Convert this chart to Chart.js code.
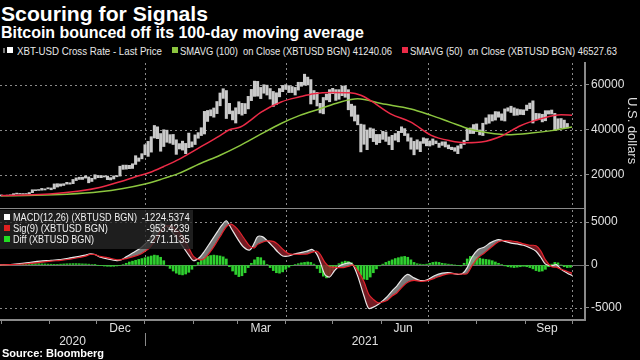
<!DOCTYPE html>
<html>
<head>
<meta charset="utf-8">
<script src="https://cdn.jsdelivr.net/npm/chart.js@4.4.0/dist/chart.umd.min.js"></script>
<style>
  body { margin: 0; background: #000; width: 640px; height: 360px; overflow: hidden; position: relative;
         font-family: "Liberation Sans", Arial, sans-serif; color: #fff; }
  .abs { position: absolute; white-space: pre; }
  .fit { transform-origin: left center; }
  .fitR { transform-origin: right center; }
  #title { left: 1px; top: 2px; font-size: 21px; line-height: 24px; font-weight: bold; }
  #subtitle { left: 1px; top: 24px; font-size: 16px; line-height: 17px; font-weight: bold; }
  .lg { font-size: 11px; line-height: 12px; color: #e8e8e8; top: 45px; }
  .sq { position: absolute; width: 6px; height: 6px; }
  #topWrap { left: 0; top: 58px; width: 640px; height: 151px; }
  #botWrap { left: 0; top: 209px; width: 640px; height: 141px; }
  #units { left: 625px; top: 97px; font-size: 13px; color: #ddd; writing-mode: vertical-rl; }
  #macdBox { left: 0; top: 210px; width: 193px; height: 39px; background: rgba(38, 38, 38, 0.8); }
  .ml { font-size: 11px; line-height: 11px; color: #f0f0f0; }
  #source { left: 2px; top: 347px; font-size: 11px; line-height: 13px; font-weight: bold; }
</style>
</head>
<body>
<div id="title" class="abs fit" data-w="207">Scouring for Signals</div>
<div id="subtitle" class="abs fit" data-w="363">Bitcoin bounced off its 100-day moving average</div>

<div class="sq" style="left:3px;top:48px;width:2px;height:5px;background:#777"></div>
<div class="sq" style="left:7px;top:47px;background:#fff"></div>
<div class="abs lg fit" data-w="145" style="left:17px">XBT-USD Cross Rate - Last Price</div>
<div class="sq" style="left:172px;top:47px;background:#8cc63f"></div>
<div class="abs lg fit" data-w="212" style="left:180px">SMAVG (100)  on Close (XBTUSD BGN) 41240.06</div>
<div class="sq" style="left:402px;top:47px;background:#ec2b47"></div>
<div class="abs lg fit" data-w="207" style="left:410px">SMAVG (50)  on Close (XBTUSD BGN) 46527.63</div>

<div id="topWrap" class="abs"><canvas id="priceChart"></canvas></div>
<div id="botWrap" class="abs"><canvas id="macdChart"></canvas></div>
<div id="units" class="abs">U.S. dollars</div>

<div id="macdBox" class="abs"></div>
<div class="sq" style="left:4px;top:214px;background:#fff"></div>
<div class="abs ml fit" data-w="124" style="left:13px;top:212px">MACD(12,26) (XBTUSD BGN)</div>
<div class="abs ml fitR" data-w="48" style="right:450px;top:212px">-1224.5374</div>
<div class="sq" style="left:4px;top:225px;background:#e02020"></div>
<div class="abs ml fit" data-w="95" style="left:13px;top:223px">Sig(9) (XBTUSD BGN)</div>
<div class="abs ml fitR" data-w="43" style="right:450px;top:223px">-953.4239</div>
<div class="sq" style="left:4px;top:236px;background:#22dd22"></div>
<div class="abs ml fit" data-w="81" style="left:13px;top:234px">Diff (XBTUSD BGN)</div>
<div class="abs ml fitR" data-w="43" style="right:450px;top:234px">-271.1135</div>

<div id="source" class="abs">Source: Bloomberg</div>

<script>
// squeeze text to the widths of the condensed original font
document.querySelectorAll('[data-w]').forEach(el => {
  const w = el.getBoundingClientRect().width;
  el.style.transform = 'scaleX(' + (Number(el.dataset.w) / w) + ')';
});

// days counted from 1 Jan 2021
const X_MIN = -92.7, X_MAX = 281.3;
const monthStarts = [-92, -61, -31, 0, 31, 59, 90, 120, 151, 181, 212, 243, 273];
const quarterStarts = [0, 90, 181, 273];
const monthLabels = { '-16': 'Dec', '74': 'Mar', '165': 'Jun', '257': 'Sep' };
const years = ['2020', '2021'];
const priceTicks = [20000, 40000, 60000];
const macdTicks = [-5000, 0, 5000];

// XBT-USD, two-day low/high bars starting 1 Oct 2020
const priceStartDay = -92;
const priceStep = 2;
const priceLow = [
  10400,10500,10500,10600,10900,11300,11300,11200,11300,11400,11900,12800,12900,13000,13100,
  13600,
  13200,13600,14400,14800,15100,15700,15700,15900,17300,17800,17800,18400,16300,16900,
  18000,
  18600,18600,18900,17700,17600,18000,19000,19300,22300,22400,22600,22700,24500,25900,27000,
  28800,28100,30000,36300,36000,30400,32500,34400,34000,33400,29000,31400,30900,29300,32000,
  32300,
  33400,36200,37400,38100,43700,46200,45600,47200,50700,54000,45000,47100,44400,
  43000,
  47100,46500,47200,49300,53000,54900,55000,53900,56300,55500,53700,50400,51300,54700,57000,
  58000,56600,56600,55500,57700,59400,59900,60000,51500,53500,50600,47500,47100,53300,52500,
  56100,53100,53600,55200,54500,48900,46000,43900,42200,30100,33500,31100,36400,34700,33400,
  34200,
  35700,34800,33300,31100,35300,34600,38700,37400,34900,31300,28800,31300,30200,33900,
  32800,
  32700,33200,33800,32100,33000,32300,31500,31100,30400,29300,31700,33400,35200,38300,38300,
  39200,37700,37400,42500,42900,43900,44300,45600,44200,43900,48300,47700,46400,46500,46800,
  46700,
  48600,49400,43000,44400,44700,43500,44000,47000,47000,39600,40200,40800,40900,40800
];
const priceHigh = [
  10900,10700,10800,10950,11450,11700,11550,11500,11500,11950,13200,13200,13300,13800,13600,
  14100,
  14000,15800,15900,15800,15900,16500,16300,17800,18500,18800,18800,19400,18900,18300,
  19900,
  19600,19500,19400,19300,18600,19400,19500,23700,24200,24200,24100,24800,28400,27400,29300,
  33300,34800,36900,41900,41300,38300,40000,39800,37800,37900,35500,33800,34900,33900,38500,
  34600,
  37700,38700,40900,48200,48600,48900,49700,52600,56400,58300,57500,51800,48400,
  49800,
  52500,51800,51700,54900,58000,61700,61600,58900,60100,59900,58400,57100,56500,58400,59800,
  60100,59700,59300,58900,61200,61200,64800,63500,62400,57500,56700,51800,54400,55900,57900,
  58500,57900,57900,59500,59600,57900,51400,50600,46600,42500,42200,39900,40800,40400,37900,
  37900,
  39300,39000,36800,37500,38300,39300,41300,40500,38200,36400,34800,35500,34700,36400,
  36000,
  35000,35900,35000,34000,34600,34600,33200,32200,32000,32800,33600,35300,40500,40800,42300,
  42600,39900,42900,45300,46700,46700,48100,48000,47100,49300,49800,50500,49800,49300,49000,
  48900,
  51000,51900,52900,47300,47200,46900,48500,48500,48800,47300,44900,45000,44300,42800
];

const sma100Days = [-92,-70,-50,-29,-14,0,10,22,35,48,61,74,87,99,112,124,136,151,170,183,195,208,219,234,247,260,273];
const sma100 = [10500,10700,11200,12300,13800,15800,17800,20600,24800,28600,33000,38000,42800,46400,49400,52200,53800,51700,49300,46400,43400,40200,38700,37800,38500,39600,41200];
const sma50Days = [-92,-77,-61,-42,-29,-16,-6,3,12,22,35,48,54,61,67,74,87,99,108,120,131,138,144,157,170,183,195,206,215,228,240,253,266,273];
const sma50 = [10600,10800,11300,12600,14200,16800,19000,20900,23600,26900,32100,37400,40000,41200,44000,47800,52400,54700,56100,56600,56500,55400,53100,47100,43400,37500,35100,34200,34500,37200,41800,44900,46700,46500];

const macdDays = [-93,-86,-80,-73,-67,-60,-54,-48,-42,-38,-35,-32,-29,-24,-18,-15,-12,-8,-3,0,
  3,7,10,12,14,17,20,24,28,31,35,38,42,46,49,52,55,59,63,67,70,72,75,78,82,85,88,92,96,101,
  104,107,110,112,115,118,121,124,127,131,133,136,140,143,146,149,152,155,158,161,
  165,168,172,176,180,185,190,195,200,203,206,209,213,217,221,226,230,234,238,242,
  246,250,253,256,260,263,266,270,273];
const macd = [20,60,150,320,450,540,640,820,1020,1150,1300,1220,950,700,500,620,950,1400,1950,2450,
  3000,4200,4800,4750,4500,3900,3200,2200,1150,500,900,1600,2700,3800,4600,5150,4300,3100,2100,1750,
  2600,3300,3300,2850,2100,1500,1050,1050,1300,1500,1650,1800,1200,350,-1100,-1400,-700,-150,100,250,
  0,-1300,-3600,-5050,-4900,-4600,-4150,-3650,-3000,-2450,-1500,-1100,-1500,-1800,-1750,-1250,-950,-900,-1100,-1000,
  -300,900,1800,2100,2600,2950,2750,2550,2450,2300,2000,1600,900,100,-100,50,-500,-950,-1224];
const signal = [20,40,90,180,300,450,540,670,870,1030,1240,1200,1010,850,610,630,750,950,1250,1600,
  2000,3050,3900,4250,4550,4500,4150,3350,2000,1000,600,750,1600,2700,3600,4450,4750,4200,3200,2200,
  2000,2400,2650,2800,2750,2400,1850,1300,1250,1250,1300,1500,1600,1250,300,-200,-250,-300,-300,-100,
  0,-650,-1950,-3400,-4000,-4400,-4300,-4100,-3600,-3250,-2450,-2000,-1800,-1900,-1850,-1550,-1200,-1000,-1050,-1050,
  -1000,-100,850,1400,2000,2700,2850,2800,2700,2450,2300,2250,1650,600,-200,-250,-500,-750,-953];

// MACD minus signal, two-day bars
const diffStartDay = -92;
const diffStep = 2;
const diff = [
  0,10,20,30,40,50,60,
  80,100,120,140,150,150,130,120,100,90,80,80,
  100,120,140,150,160,160,150,130,
  120,100,60,20,-30,
  -80,-120,-150,-160,-150,-110,
  -40,60,200,350,450,550,650,750,
  850,950,1050,1150,1100,900,500,
  -100,-400,-700,-950,-1100,-1150,-1050,-850,-500,
  -100,300,600,850,1000,1100,1150,1100,1050,950,700,
  -200,-700,-1100,-1350,-1250,-900,
  -300,200,600,900,850,500,
  50,-300,-650,-900,-950,-800,-500,-250,
  -80,50,150,250,300,350,300,100,
  -400,-900,-1300,-1500,-1200,-700,-200,
  150,350,450,400,250,-100,
  -700,-1200,-1650,-1700,-1400,-900,-450,-100,
  100,300,450,600,750,850,950,1000,900,600,300,
  150,100,50,100,200,300,350,300,200,150,100,50,0,-50,
  -100,200,700,1000,1050,950,800,700,650,600,500,350,
  200,50,-100,-200,-250,-300,-250,-200,-150,-200,-300,
  -450,-650,-750,-700,-500,-200,
  100,300,250,0,
  -200,-300,-271
];

const GRID = '#8a8a8a';
const AXIS = '#8a8a8a';

// dotted grid lines drawn from the scales' own tick positions
const dottedGrid = {
  id: 'dottedGrid',
  beforeDatasetsDraw(chart, args, opts) {
    const { ctx, chartArea, scales } = chart;
    ctx.save();
    ctx.strokeStyle = GRID;
    ctx.lineWidth = 1;
    ctx.setLineDash([2, 3]);
    quarterStarts.forEach(d => {
      const x = Math.round(scales.x.getPixelForValue(d)) + 0.5;
      ctx.beginPath(); ctx.moveTo(x, chartArea.top); ctx.lineTo(x, chartArea.bottom); ctx.stroke();
    });
    opts.yTicks.forEach(v => {
      const y = Math.round(scales.y.getPixelForValue(v)) + 0.5;
      ctx.beginPath(); ctx.moveTo(chartArea.left, y); ctx.lineTo(chartArea.right, y); ctx.stroke();
    });
    ctx.restore();
  }
};

function xScale(showLabels) {
  const tickDays = monthStarts.concat(Object.keys(monthLabels).map(Number));
  return {
    type: 'linear', min: X_MIN, max: X_MAX, offset: false,
    afterBuildTicks: s => { s.ticks = tickDays.map(v => ({ value: v })); },
    afterFit: s => { s.height = showLabels ? 30 : 0; s.paddingLeft = 0; s.paddingRight = 0; },
    grid: {
      offset: false, drawOnChartArea: false,
      tickColor: c => (c.tick && monthStarts.includes(c.tick.value)) ? AXIS : 'rgba(0,0,0,0)',
      drawTicks: showLabels, tickLength: 4
    },
    border: { display: true, color: AXIS, width: 2 },
    ticks: {
      display: showLabels, autoSkip: false, maxRotation: 0, padding: -3,
      color: '#e0e0e0', font: { size: 12 },
      callback: v => monthLabels[String(v)] || ''
    }
  };
}

function yScale(min, max, ticks) {
  return {
    position: 'right', min: min, max: max,
    afterBuildTicks: s => { s.ticks = ticks.map(v => ({ value: v })); },
    afterFit: s => { s.width = 55; s.paddingTop = 0; s.paddingBottom = 0; },
    grid: { drawOnChartArea: false, tickColor: AXIS, tickLength: 4 },
    border: { display: true, color: AXIS, width: 2 },
    ticks: { color: '#e0e0e0', font: { size: 12 }, padding: 2, callback: v => String(v) }
  };
}

const pts = (days, vals) => days.map((d, i) => ({ x: d, y: vals[i] }));

new Chart(document.getElementById('priceChart'), {
  type: 'line',
  data: {
    datasets: [
      { label: 'SMAVG (50)', data: pts(sma50Days, sma50), borderColor: '#ec2b47', borderWidth: 1.5,
        pointRadius: 0, cubicInterpolationMode: 'monotone', order: 1 },
      { label: 'SMAVG (100)', data: pts(sma100Days, sma100), borderColor: '#8cc63f', borderWidth: 1.5,
        pointRadius: 0, cubicInterpolationMode: 'monotone', order: 2 },
      { type: 'bar', label: 'XBT-USD', order: 3, backgroundColor: '#c9c9c9', barThickness: 2.4,
        data: priceLow.map((lo, i) => ({ x: priceStartDay + i * priceStep, y: [lo, priceHigh[i]] })) }
    ]
  },
  options: {
    responsive: true, maintainAspectRatio: false, animation: false, devicePixelRatio: 1,
    layout: { padding: { top: 5, bottom: 0, left: 0, right: 0 } },
    plugins: { legend: { display: false }, tooltip: { enabled: false }, dottedGrid: { yTicks: priceTicks } },
    scales: { x: xScale(false), y: yScale(4600, 69800, priceTicks) }
  },
  plugins: [dottedGrid]
});

const zeroLine = {
  id: 'zeroLine',
  beforeDatasetsDraw(chart) {
    const { ctx, chartArea, scales } = chart;
    const y = Math.round(scales.y.getPixelForValue(0)) + 0.5;
    ctx.save();
    ctx.strokeStyle = '#707070';
    ctx.lineWidth = 1;
    ctx.beginPath();
    ctx.moveTo(chartArea.left, y);
    ctx.lineTo(chartArea.right, y);
    ctx.stroke();
    ctx.restore();
  }
};

const yearRow = {
  id: 'yearRow',
  afterDraw(chart) {
    const { ctx, chartArea, scales } = chart;
    const x0 = scales.x.getPixelForValue(0);
    const b = chartArea.bottom;
    ctx.save();
    ctx.fillStyle = '#e0e0e0';
    ctx.font = '12px "Liberation Sans", Arial, sans-serif';
    ctx.textAlign = 'center';
    ctx.textBaseline = 'alphabetic';
    ctx.fillText(years[0], (chartArea.left + x0) / 2, b + 25);
    ctx.fillText(years[1], (x0 + chartArea.right) / 2, b + 25);
    ctx.strokeStyle = AXIS;
    ctx.lineWidth = 1;
    ctx.beginPath();
    ctx.moveTo(Math.round(x0) + 0.5, b + 13);
    ctx.lineTo(Math.round(x0) + 0.5, b + 26);
    ctx.stroke();
    ctx.restore();
  }
};

new Chart(document.getElementById('macdChart'), {
  type: 'line',
  data: {
    datasets: [
      { label: 'MACD(12,26)', data: pts(macdDays, macd), borderColor: '#e8e8e8', borderWidth: 1.2,
        pointRadius: 0, tension: 0.3, order: 1,
        fill: { target: 1, above: 'rgba(150,150,150,0.8)', below: 'rgba(135,30,40,0.85)' } },
      { label: 'Sig(9)', data: pts(macdDays, signal), borderColor: '#e3232d', borderWidth: 1.2,
        pointRadius: 0, tension: 0.3, order: 0 },
      { type: 'bar', label: 'Diff', order: 3, backgroundColor: '#2fd02f', barThickness: 2,
        data: diff.map((v, i) => ({ x: diffStartDay + i * diffStep, y: v })) }
    ]
  },
  options: {
    responsive: true, maintainAspectRatio: false, animation: false, devicePixelRatio: 1,
    layout: { padding: { top: 1, bottom: 0, left: 0, right: 0 } },
    plugins: { legend: { display: false }, tooltip: { enabled: false }, dottedGrid: { yTicks: [-5000, 5000] } },
    scales: { x: xScale(true), y: yScale(-6400, 6400, macdTicks) }
  },
  plugins: [dottedGrid, zeroLine, yearRow]
});
</script>
</body>
</html>
